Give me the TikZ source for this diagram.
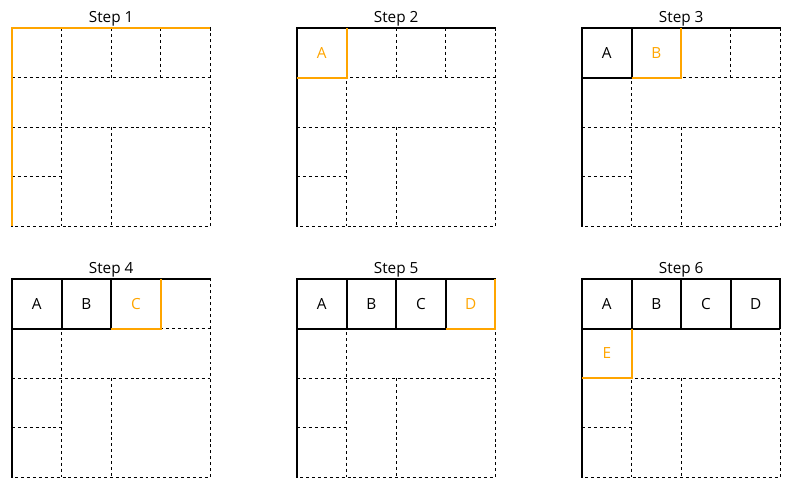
\documentclass[tikz,border=0pt]{standalone}
\usepackage{fontspec}
\setmainfont{Open Sans}
\usepackage{xcolor}
\usepackage{tikz}
\usetikzlibrary{positioning}
\definecolor{pick}{HTML}{FFA500}

\begin{document}
\begin{tikzpicture}
  [ x=1cm, y=-1cm,
    grid/.style={draw=black, line width=0.6pt, dash pattern=on 1.7pt off 1.7pt},
    fixed/.style={draw=black, line width=1.15pt},
    cur/.style={draw=pick, line width=1.15pt},
    title/.style={anchor=base, font=\fontsize{8.8}{10}\selectfont},
    cell/.style={font=\fontsize{8.8}{10}\selectfont}
  ]
  \useasboundingbox (0,0) rectangle (16.149,9.94);

  % dashed free areas, same in every step
  \foreach \ox/\oy/\n in {0.242/0.565/1, 5.988/0.565/2, 11.734/0.565/3,
                          0.242/5.625/4, 5.988/5.625/5, 11.734/5.625/6}
  {
    \begin{scope}[shift={(\ox,\oy)}]
      \draw [grid] (0,0) rectangle (4,4);
      \draw [grid] (0,1) -- (4,1) (0,2) -- (4,2) (0,3) -- (1,3);
      \draw [grid] (1,0) -- (1,4) (2,0) -- (2,1) (2,2) -- (2,4) (3,0) -- (3,1);
      \node (t\n) [title] at (2,-0.11) {Step \n};
    \end{scope}
  }

  % step 1
  \begin{scope}[shift={(0.242,0.565)}]
    \draw [cur] (4,0) -- (0,0) -- (0,4);
  \end{scope}

  % step 2
  \begin{scope}[shift={(5.988,0.565)}]
    \draw [fixed] (4,0) -- (0,0) -- (0,4);
    \draw [cur] (1,0) -- (1,1) -- (0,1);
    \node (s2a) [cell, text=pick] at (0.5,0.5) {A};
  \end{scope}

  % step 3
  \begin{scope}[shift={(11.734,0.565)}]
    \draw [fixed] (4,0) -- (0,0) -- (0,4);
    \draw [fixed] (1,0) -- (1,1) -- (0,1);
    \draw [cur] (2,0) -- (2,1) -- (1,1);
    \node (s3a) [cell] at (0.5,0.5) {A};
    \node (s3b) [cell, text=pick] at (1.5,0.5) {B};
  \end{scope}

  % step 4
  \begin{scope}[shift={(0.242,5.625)}]
    \draw [fixed] (4,0) -- (0,0) -- (0,4);
    \draw [fixed] (1,0) -- (1,1) (2,0) -- (2,1) -- (0,1);
    \draw [cur] (3,0) -- (3,1) -- (2,1);
    \node (s4a) [cell] at (0.5,0.5) {A};
    \node (s4b) [cell] at (1.5,0.5) {B};
    \node (s4c) [cell, text=pick] at (2.5,0.5) {C};
  \end{scope}

  % step 5
  \begin{scope}[shift={(5.988,5.625)}]
    \draw [fixed] (4,0) -- (0,0) -- (0,4);
    \draw [fixed] (1,0) -- (1,1) (2,0) -- (2,1) (3,0) -- (3,1) -- (0,1);
    \draw [cur] (4,0) -- (4,1) -- (3,1);
    \node (s5a) [cell] at (0.5,0.5) {A};
    \node (s5b) [cell] at (1.5,0.5) {B};
    \node (s5c) [cell] at (2.5,0.5) {C};
    \node (s5d) [cell, text=pick] at (3.5,0.5) {D};
  \end{scope}

  % step 6
  \begin{scope}[shift={(11.734,5.625)}]
    \draw [fixed] (4,1) -- (4,0) -- (0,0) -- (0,4);
    \draw [fixed] (1,0) -- (1,1) (2,0) -- (2,1) (3,0) -- (3,1) (4,1) -- (0,1);
    \draw [cur] (1,1) -- (1,2) -- (0,2);
    \node (s6a) [cell] at (0.5,0.5) {A};
    \node (s6b) [cell] at (1.5,0.5) {B};
    \node (s6c) [cell] at (2.5,0.5) {C};
    \node (s6d) [cell] at (3.5,0.5) {D};
    \node (s6e) [cell, text=pick] at (0.5,1.5) {E};
  \end{scope}
\end{tikzpicture}
\end{document}
